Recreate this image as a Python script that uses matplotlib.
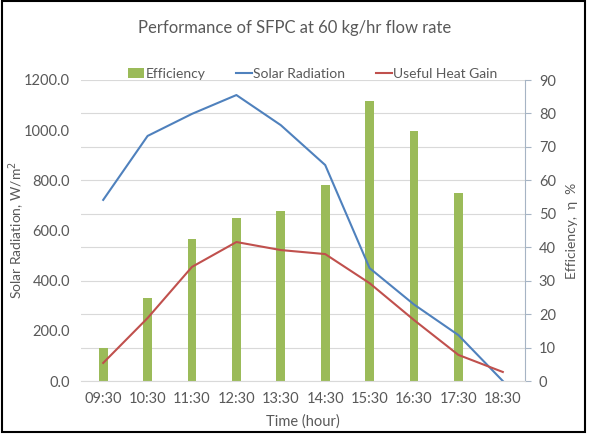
import matplotlib.pyplot as plt
import numpy as np
from matplotlib.patches import Rectangle

plt.rcParams['font.family'] = ['Lato', 'DejaVu Sans']

times = ['09:30', '10:30', '11:30', '12:30', '13:30', '14:30', '15:30', '16:30', '17:30', '18:30']
efficiency = [9.9, 24.8, 42.5, 48.7, 50.8, 58.6, 83.7, 74.8, 56.2, 0]
solar_radiation = [722, 977, 1065, 1140, 1020, 861, 450, 305, 183, 0]
useful_heat = [72, 251, 455, 554, 522, 506, 390, 243, 104, 36]

text_col = '#595959'
x = np.arange(len(times))

fig = plt.figure(figsize=(5.89, 4.36), dpi=100)
ax = fig.add_axes([81 / 589, 1 - 381 / 436, 444 / 589, 301 / 436])
ax2 = ax.twinx()

# bars on the secondary axis, drawn behind the lines
ax2.bar(x, efficiency, width=0.2, color='#9BBB59', label='Efficiency', zorder=1)
ax.set_zorder(ax2.get_zorder() + 1)
ax.patch.set_visible(False)
l1, = ax.plot(x, solar_radiation, color='#4F81BD', lw=1.5, label='Solar Radiation')
l2, = ax.plot(x, useful_heat, color='#C0504D', lw=1.5, label='Useful Heat Gain')

ax.set_xlim(-0.5, len(times) - 0.5)
ax.set_ylim(0, 1200)
ax.set_yticks(np.arange(0, 1201, 200))
ax.set_yticklabels(['%.1f' % v for v in np.arange(0, 1201, 200)])
ax2.set_ylim(0, 90)
ax2.set_yticks(np.arange(0, 91, 10))
ax.set_xticks(x)
ax.set_xticklabels(times)

ax2.grid(axis='y', color='#D9D9D9', lw=0.8)
ax2.set_axisbelow(True)
for a in (ax, ax2):
    for s in a.spines.values():
        s.set_visible(False)
    a.tick_params(colors=text_col, labelsize=10.5, length=0)
ax.spines['bottom'].set_visible(True)
ax.spines['bottom'].set_color('#D9D9D9')
ax2.spines['right'].set_visible(True)
ax2.spines['right'].set_color('#A6B4C4')
ax2.tick_params(axis='y', length=4, color='#A6B4C4', pad=6)
ax.tick_params(axis='x', pad=8)
ax.tick_params(axis='y', pad=8)

ax.set_ylabel('Solar Radiation, W/m$^2$', color=text_col, fontsize=10)
ax.yaxis.set_label_coords(-0.122, 0.5)
ax2.set_ylabel('Efficiency,  η  %', color=text_col, fontsize=10)
ax2.yaxis.set_label_coords(1.092, 0.5)
ax.set_xlabel('Time (hour)', color=text_col, fontsize=10.5)
ax.xaxis.set_label_coords(0.5, -0.11)
fig.text(0.5, 1 - 28 / 436, 'Performance of SFPC at 60 kg/hr flow rate',
         ha='center', va='center', color=text_col, fontsize=12)

bars = ax2.containers[0]
fig.legend([bars, l1, l2], ['Efficiency', 'Solar Radiation', 'Useful Heat Gain'],
           loc='center', bbox_to_anchor=(313 / 589, 1 - 74 / 436), ncol=3, frameon=False,
           fontsize=10, labelcolor=text_col, handlelength=1.15, handletextpad=0.1,
           columnspacing=2.2)

fig.patches.append(Rectangle((0.004, 0.01), 0.99, 0.988, transform=fig.transFigure,
                             fill=False, edgecolor='black', lw=1.5))

fig.savefig('out.png', dpi=100)
